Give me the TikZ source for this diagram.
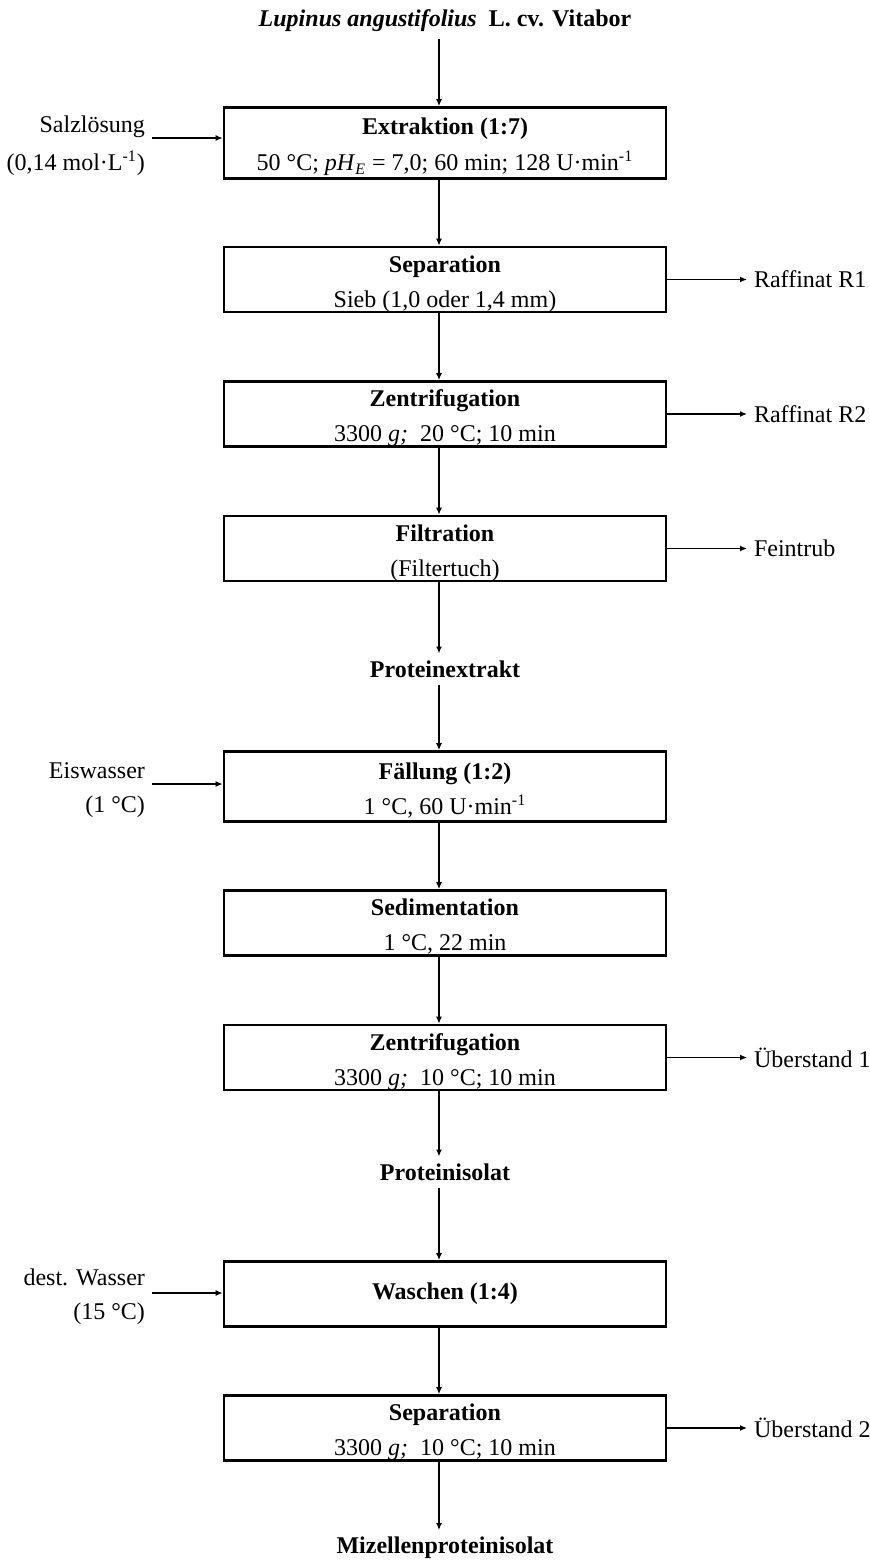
\documentclass[tikz,border=0pt]{standalone}
\usepackage{fontspec}
\setmainfont{Liberation Serif}
\usetikzlibrary{arrows.meta}

\begin{document}
\begin{tikzpicture}[x=0.5pt, y=-0.5pt,
                    font=\fontsize{12}{14.4}\selectfont,
                    prozess/.style={draw, line width=1.35pt, minimum width=221pt, minimum height=32.5pt, align=center, inner sep=1pt},
                    zweizeilig/.style={text height=28.5pt, text depth=1pt},
                    strom/.style={line width=0.65pt, -{Latex[length=3.5pt,width=3pt]}},
                    zulauf/.style={align=right, anchor=east},
                    ablauf/.style={anchor=west}]
                    \useasboundingbox (0,0) rectangle (870,1560);
                    \node (lupine) at (445,21) {\textbf{\textit{Lupinus angustifolius}\ \ L. cv. Vitabor}};
                    \node[prozess, zweizeilig, minimum height=35.5pt] (extraktion) at (445,143)
                        {\textbf{Extraktion (1:7)}\\[3.5pt]50 °C; \textit{pH}\textsubscript{\textit{E}} = 7,0; 60 min; 128 U·min\textsuperscript{-1}};
                    \node[prozess, zweizeilig] (separation) at (445,279.5) {\textbf{Separation}\\[3pt]Sieb (1,0 oder 1,4 mm)};
                    \node[prozess, zweizeilig] (zentri) at (445,414) {\textbf{Zentrifugation}\\[3pt]3300 \textit{g;}\ \ 20 °C; 10 min};
                    \node[prozess, zweizeilig] (filtration) at (445,548.5) {\textbf{Filtration}\\[3pt](Filtertuch)};
                    \node (extrakt) at (445,669) {\textbf{Proteinextrakt}};
                    \node[prozess, zweizeilig, minimum height=35pt] (faellung) at (445,786.5) {\textbf{Fällung (1:2)}\\[3pt]1 °C, 60 U·min\textsuperscript{-1}};
                    \node[prozess, zweizeilig] (sediment) at (445,923) {\textbf{Sedimentation}\\[3pt]1 °C, 22 min};
                    \node[prozess, zweizeilig] (zentrizwei) at (445,1057.5) {\textbf{Zentrifugation}\\[3pt]3300 \textit{g;}\ \ 10 °C; 10 min};
                    \node (isolat) at (445,1172) {\textbf{Proteinisolat}};
                    \node[prozess] (waschen) at (445,1294) {\textbf{Waschen (1:4)}};
                    \node[prozess, zweizeilig] (separationzwei) at (445,1428) {\textbf{Separation}\\[3pt]3300 \textit{g;}\ \ 10 °C; 10 min};
                    \node (mizellen) at (445,1548) {\textbf{Mizellenproteinisolat}};

                    \node[zulauf] (salz) at (152,146) {Salzlösung\\[4.5pt](0,14 mol·L\textsuperscript{-1})};
                    \node[zulauf] (eis) at (152,790) {Eiswasser\\[3pt](1 °C)};
                    \node[zulauf] (wasser) at (152,1297) {dest. Wasser\\[2.5pt](15 °C)};

                    \node[ablauf] (raffinat1) at (747,279.5) {Raffinat R1};
                    \node[ablauf] (raffinat2) at (747,414) {Raffinat R2};
                    \node[ablauf] (feintrub) at (747,548.5) {Feintrub};
                    \node[ablauf] (ueber1) at (747,1057.5) {Überstand 1};
                    \node[ablauf] (ueber2) at (747,1428) {Überstand 2};

                    \foreach \von/\nach in {lupine/extraktion, extraktion/separation, separation/zentri, zentri/filtration,
                                            filtration/extrakt, extrakt/faellung, faellung/sediment, sediment/zentrizwei,
                                            zentrizwei/isolat, isolat/waschen, waschen/separationzwei, separationzwei/mizellen}
                        \draw[strom] ([xshift=-3pt]\von.south) -- ([xshift=-3pt]\nach.north);

                    \draw[strom] ([yshift=4pt]salz.east) -- ([yshift=4pt]salz.east -| extraktion.west);
                    \draw[strom] ([yshift=3pt]eis.east) -- ([yshift=3pt]eis.east -| faellung.west);
                    \draw[strom] ([yshift=2pt]wasser.east) -- ([yshift=2pt]wasser.east -| waschen.west);

                    \draw[strom] (separation.east) -- (raffinat1);
                    \draw[strom] (zentri.east) -- (raffinat2);
                    \draw[strom] (filtration.east) -- (feintrub);
                    \draw[strom] (zentrizwei.east) -- (ueber1);
                    \draw[strom] (separationzwei.east) -- (ueber2);
\end{tikzpicture}
\end{document}
